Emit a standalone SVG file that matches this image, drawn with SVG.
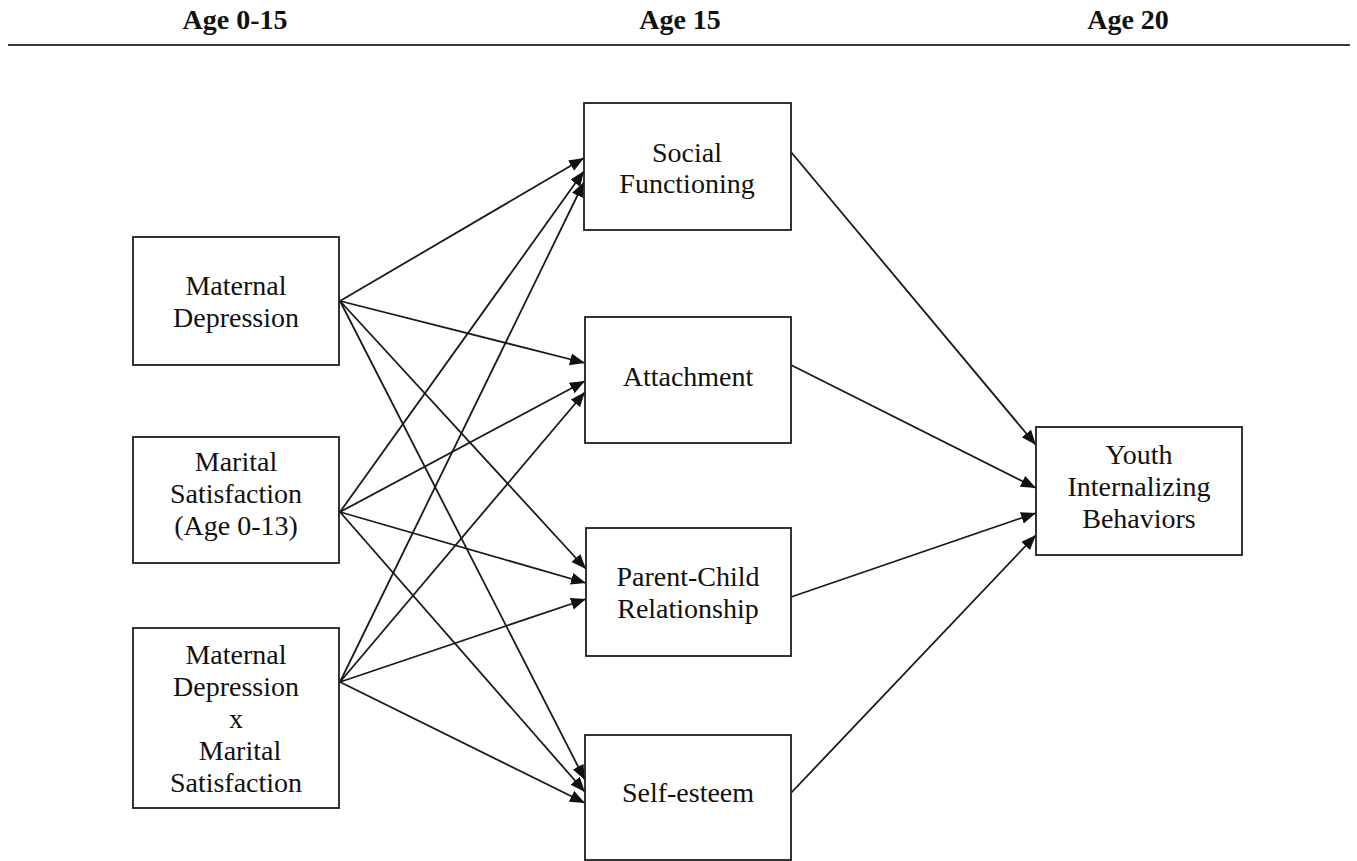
<svg xmlns="http://www.w3.org/2000/svg" width="1357" height="861" viewBox="0 0 1357 861">
<style>
.box{fill:#fff;stroke:#1e1e1e;stroke-width:1.8}
.t{font-family:"Liberation Serif","Times New Roman",serif;font-size:28px;fill:#111;text-anchor:middle}
.h{font-family:"Liberation Serif","Times New Roman",serif;font-size:28px;font-weight:bold;fill:#111;text-anchor:middle}
.e{stroke:#1a1a1a;stroke-width:1.8;fill:none;marker-end:url(#ah)}
</style>
<defs>
<marker id="ah" markerUnits="userSpaceOnUse" markerWidth="16" markerHeight="14" refX="15" refY="6" orient="auto">
<path d="M0,0 L15,6 L0,12 z" fill="#111"/>
</marker>
</defs>
<rect width="1357" height="861" fill="#fff"/>
<g id="header">
<text class="h" x="235" y="29">Age 0-15</text>
<text class="h" x="680" y="29">Age 15</text>
<text class="h" x="1128" y="29">Age 20</text>
<line x1="8" y1="45" x2="1350" y2="45" stroke="#383838" stroke-width="2.2"/>
</g>
<g id="connectors">
<line class="e" x1="340" y1="301" x2="584" y2="158"/>
<line class="e" x1="340" y1="301" x2="585" y2="363"/>
<line class="e" x1="340" y1="301" x2="586" y2="569"/>
<line class="e" x1="340" y1="301" x2="585" y2="780"/>
<line class="e" x1="340" y1="512" x2="584" y2="171"/>
<line class="e" x1="340" y1="512" x2="585" y2="381"/>
<line class="e" x1="340" y1="512" x2="586" y2="583"/>
<line class="e" x1="340" y1="512" x2="585" y2="792"/>
<line class="e" x1="340" y1="682" x2="584" y2="182"/>
<line class="e" x1="340" y1="682" x2="585" y2="392"/>
<line class="e" x1="340" y1="682" x2="586" y2="599"/>
<line class="e" x1="340" y1="682" x2="585" y2="803"/>
<line class="e" x1="791" y1="152" x2="1036" y2="445"/>
<line class="e" x1="791" y1="365" x2="1036" y2="488"/>
<line class="e" x1="791" y1="597" x2="1036" y2="513"/>
<line class="e" x1="791" y1="793" x2="1036" y2="535"/>
</g>
<g id="maternal-depression">
<rect class="box" x="133" y="237" width="206" height="128"/>
<text class="t" x="236" y="295">Maternal</text>
<text class="t" x="236" y="327">Depression</text>
</g>
<g id="marital-satisfaction">
<rect class="box" x="133" y="437" width="206" height="126"/>
<text class="t" x="236" y="471">Marital</text>
<text class="t" x="236" y="503">Satisfaction</text>
<text class="t" x="236" y="535">(Age 0-13)</text>
</g>
<g id="interaction">
<rect class="box" x="133" y="628" width="206" height="180"/>
<text class="t" x="236" y="664">Maternal</text>
<text class="t" x="236" y="696">Depression</text>
<text class="t" x="236" y="728">x</text>
<text class="t" x="240" y="760">Marital</text>
<text class="t" x="236" y="792">Satisfaction</text>
</g>
<g id="social-functioning">
<rect class="box" x="584" y="103" width="207" height="127"/>
<text class="t" x="687" y="162">Social</text>
<text class="t" x="687" y="193">Functioning</text>
</g>
<g id="attachment">
<rect class="box" x="585" y="317" width="206" height="126"/>
<text class="t" x="688" y="386">Attachment</text>
</g>
<g id="parent-child">
<rect class="box" x="586" y="528" width="205" height="128"/>
<text class="t" x="688" y="586">Parent-Child</text>
<text class="t" x="688" y="618">Relationship</text>
</g>
<g id="self-esteem">
<rect class="box" x="585" y="735" width="206" height="125"/>
<text class="t" x="688" y="802">Self-esteem</text>
</g>
<g id="youth">
<rect class="box" x="1036" y="427" width="206" height="128"/>
<text class="t" x="1139" y="464">Youth</text>
<text class="t" x="1139" y="496">Internalizing</text>
<text class="t" x="1139" y="528">Behaviors</text>
</g>
</svg>
